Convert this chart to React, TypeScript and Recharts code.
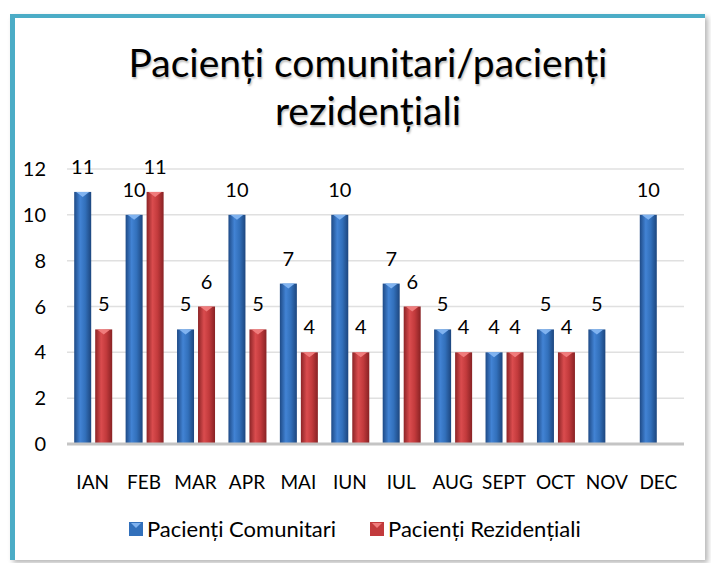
import { BarChart, Bar, XAxis, YAxis, CartesianGrid, Legend, LabelList } from 'recharts';

const months = ['IAN', 'FEB', 'MAR', 'APR', 'MAI', 'IUN', 'IUL', 'AUG', 'SEPT', 'OCT', 'NOV', 'DEC'];
const comunitari = [11, 10, 5, 10, 7, 10, 7, 5, 4, 5, 5, 10];
const rezidentiali = [5, 11, 6, 5, 4, 4, 6, 4, 4, 4, null, null];
const yTicks = [0, 2, 4, 6, 8, 10, 12];

const data = months.map((m, i) => ({
  month: m,
  comunitari: comunitari[i],
  rezidentiali: rezidentiali[i],
}));

const FONT = 'Lato, sans-serif';
const BLUE = '#3270bb';
const RED = '#c23a3c';

function Bar3D(props: any) {
  const { x, y, width, height, gradient, cap } = props;
  if (!height || height <= 0) return null;
  return (
    <g>
      <rect x={x} y={y} width={width} height={height} fill={`url(#${gradient})`} />
      <polygon
        points={`${x + 2},${y} ${x + width - 2},${y} ${x + width / 2},${y + 5}`}
        fill={cap}
      />
    </g>
  );
}

function LegendSwatch({ color, cap }: { color: string; cap: string }) {
  return (
    <svg width={14} height={14} style={{ marginRight: 4 }}>
      <rect x={0} y={0} width={14} height={14} fill={color} />
      <polygon points="2,1 12,1 7,6" fill={cap} />
    </svg>
  );
}

const renderLegend = () => (
  <div style={{ display: 'flex', alignItems: 'center', fontFamily: FONT, fontSize: 22, color: '#000' }}>
    <div style={{ display: 'flex', alignItems: 'center', marginRight: 34 }}>
      <LegendSwatch color={BLUE} cap="#7fb2ef" />
      <span>Pacienți Comunitari</span>
    </div>
    <div style={{ display: 'flex', alignItems: 'center' }}>
      <LegendSwatch color={RED} cap="#f07c7c" />
      <span>Pacienți Rezidențiali</span>
    </div>
  </div>
);

const labelStyle = { fontFamily: FONT, fontSize: 20, fill: '#000' };

export default function App() {
  return (
    <div style={{ position: 'absolute', left: 0, top: 0, width: 711, height: 563, background: '#fff', overflow: 'hidden' }}>
      <div
        style={{
          position: 'absolute',
          left: 10,
          top: 14,
          width: 690,
          height: 542,
          borderLeft: '5px solid #4bacc6',
          borderTop: '4px solid #4bacc6',
          background: '#fff',
          boxShadow: '3px 3px 5px rgba(0,0,0,0.28)',
        }}
      />
      <div
        style={{
          position: 'absolute',
          left: 68,
          top: 38,
          width: 600,
          textAlign: 'center',
          fontFamily: FONT,
          fontSize: 39,
          lineHeight: '48px',
          color: '#000',
          textShadow: '1px 2px 2px rgba(0,0,0,0.25)',
        }}
      >
        Pacienți comunitari/pacienți
        <br />
        rezidențiali
      </div>
      <div style={{ position: 'absolute', left: 0, top: 0 }}>
        <BarChart
          width={711}
          height={563}
          data={data}
          margin={{ top: 169, right: 27, left: 27, bottom: 79 }}
          barCategoryGap="14%"
          barGap={4}
        >
          <defs>
            <linearGradient id="gBlue" x1="0" y1="0" x2="1" y2="0">
              <stop offset="0%" stopColor="#1e4a86" />
              <stop offset="35%" stopColor="#4283d4" />
              <stop offset="65%" stopColor="#3270bb" />
              <stop offset="100%" stopColor="#1d467e" />
            </linearGradient>
            <linearGradient id="gRed" x1="0" y1="0" x2="1" y2="0">
              <stop offset="0%" stopColor="#8c2426" />
              <stop offset="35%" stopColor="#da4c4e" />
              <stop offset="65%" stopColor="#c23a3c" />
              <stop offset="100%" stopColor="#882224" />
            </linearGradient>
          </defs>
          <CartesianGrid vertical={false} stroke="#e0e0e0" strokeWidth={1.5} />
          <XAxis
            dataKey="month"
            height={40}
            tickLine={false}
            tickSize={0}
            tickMargin={32}
            axisLine={{ stroke: '#c4c4c4', strokeWidth: 3 }}
            tick={{ fontFamily: FONT, fontSize: 19, fill: '#000' }}
            interval={0}
          />
          <YAxis
            width={40}
            domain={[0, 12]}
            ticks={yTicks}
            axisLine={false}
            tickLine={false}
            tickSize={0}
            tickMargin={21}
            tick={{ fontFamily: FONT, fontSize: 20, fill: '#000' }}
          />
          <Legend
            layout="horizontal"
            verticalAlign="middle"
            content={renderLegend}
            wrapperStyle={{ position: 'absolute', top: 515, left: 129, width: 'auto' }}
          />
          <Bar
            dataKey="comunitari"
            name="Pacienți Comunitari"
            fill={BLUE}
            isAnimationActive={false}
            shape={(p: any) => <Bar3D {...p} gradient="gBlue" cap="#80b3f0" />}
          >
            <LabelList dataKey="comunitari" position="top" offset={18} style={labelStyle} />
          </Bar>
          <Bar
            dataKey="rezidentiali"
            name="Pacienți Rezidențiali"
            fill={RED}
            isAnimationActive={false}
            shape={(p: any) => <Bar3D {...p} gradient="gRed" cap="#f07c7c" />}
          >
            <LabelList dataKey="rezidentiali" position="top" offset={18} style={labelStyle} />
          </Bar>
        </BarChart>
      </div>
    </div>
  );
}
